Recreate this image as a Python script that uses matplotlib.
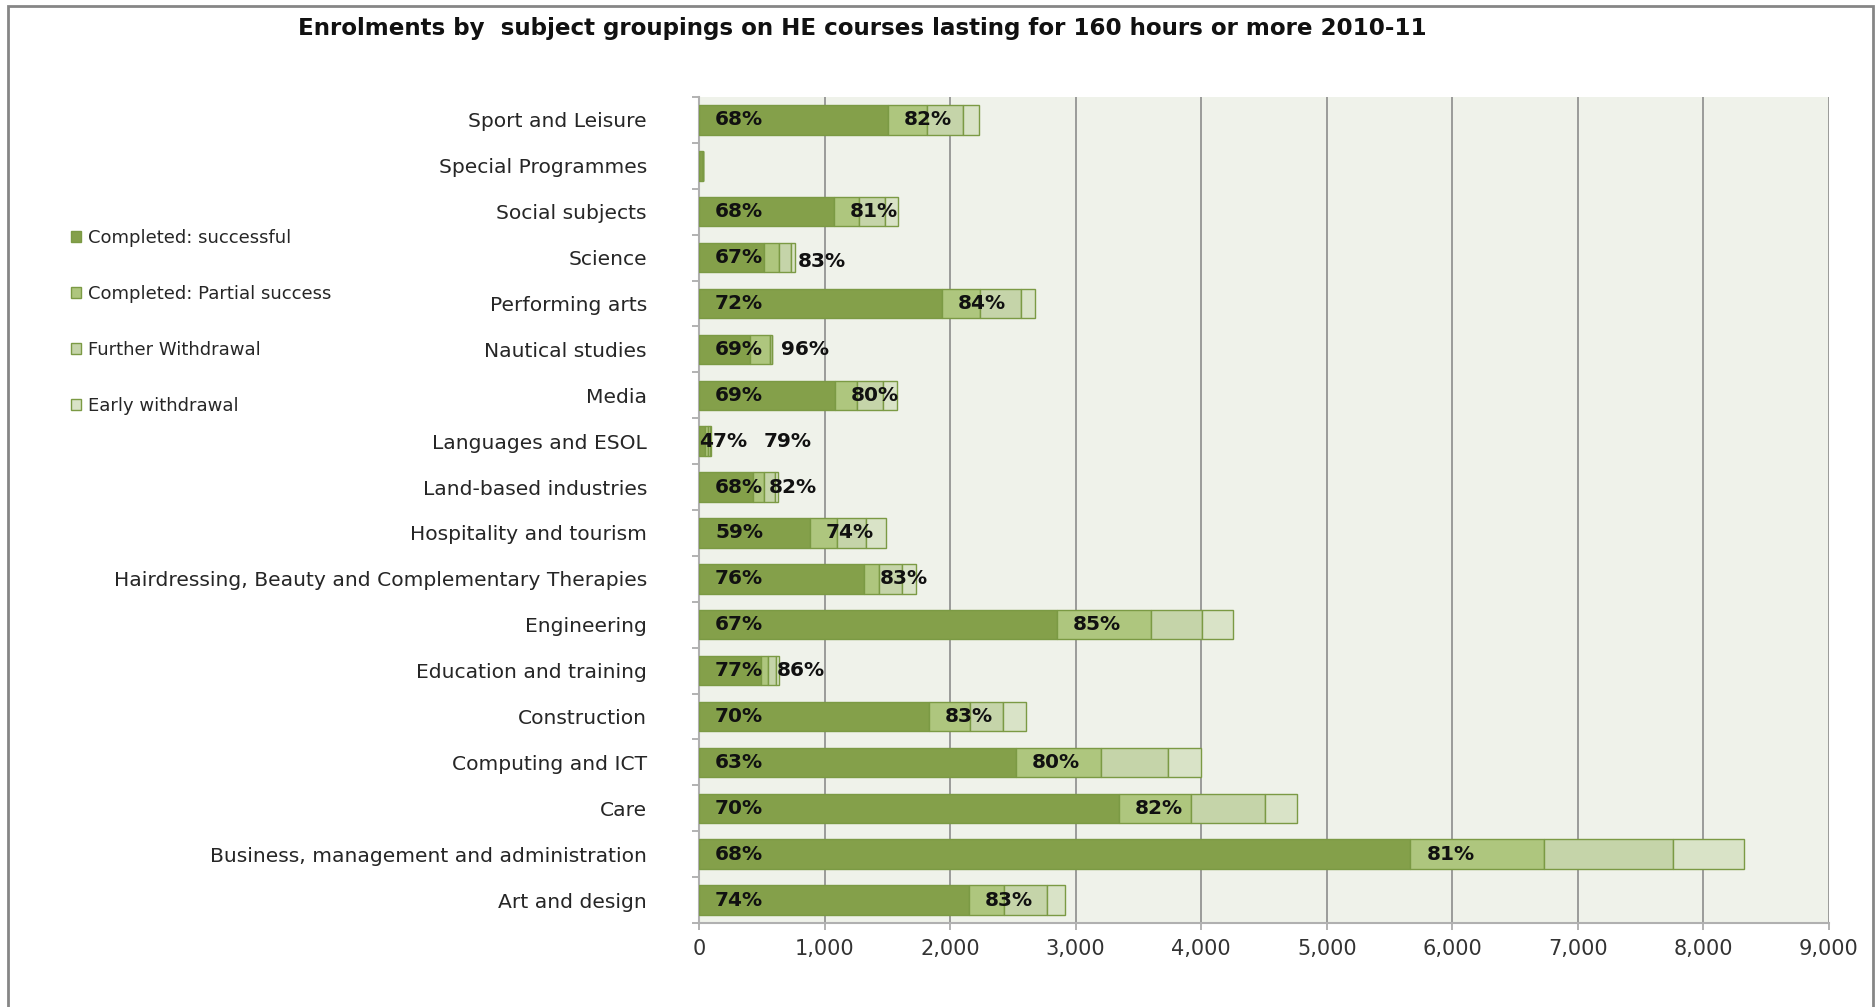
"""HE enrolments by subject grouping, 2010-11

Stacked horizontal bars of outcomes per subject group, with the success
rate and the success-plus-partial rate printed on each bar.
"""
import numpy as np
import matplotlib

matplotlib.use("Agg")
import matplotlib.pyplot as plt
from matplotlib.patches import Patch, Rectangle
from matplotlib.ticker import FuncFormatter, FixedLocator

TITLE = "Enrolments by  subject groupings on HE courses lasting for 160 hours or more 2010-11"

# bottom row first
SUBJECTS = [
    "Art and design",
    "Business, management and administration",
    "Care",
    "Computing and ICT",
    "Construction",
    "Education and training",
    "Engineering",
    "Hairdressing, Beauty and Complementary Therapies",
    "Hospitality and tourism",
    "Land-based industries",
    "Languages and ESOL",
    "Media",
    "Nautical studies",
    "Performing arts",
    "Science",
    "Social subjects",
    "Special Programmes",
    "Sport and Leisure",
]
SUCCESSFUL = [2152, 5666, 3347, 2525, 1829, 490, 2849, 1311, 884, 430,
              45, 1085, 405, 1932, 515, 1075, 30, 1507]
PARTIAL = [279, 1066, 569, 680, 332, 58, 751, 119, 212, 88,
           30, 170, 157, 305, 119, 201, 0, 311]
FURTHER_WD = [342, 1023, 595, 529, 262, 68, 405, 183, 231, 87,
              13, 207, 17, 324, 101, 205, 0, 286]
EARLY_WD = [146, 568, 253, 262, 181, 21, 249, 112, 164, 27,
            7, 112, 6, 114, 32, 101, 0, 123]
SERIES = ["Completed: successful", "Completed: Partial success",
          "Further Withdrawal", "Early withdrawal"]

COLOURS = ["#84a04a", "#aec67e", "#c5d4a9", "#d9e3c7"]
EDGE = "#7b9a44"
PLOT_BG = "#eff2ea"
TEXT = "#262626"

# labels that were dragged off their default spot (pixels: dx1, dx2, dy2)
NUDGE = {
    "Science": (16, 34, -4),
    "Nautical studies": (16, 31, 0),
    "Languages and ESOL": (0, 59, 0),
}
NO_LABELS = {"Special Programmes"}

DPI = 100
PX = 72.0 / DPI  # points per pixel

fig = plt.figure(figsize=(18.75, 10.07), dpi=DPI)
ax = fig.add_axes([699 / 1875, 1 - 923 / 1007, 1130 / 1875, 826 / 1007])
ax.set_facecolor(PLOT_BG)

y = np.arange(len(SUBJECTS))
left = np.zeros(len(SUBJECTS))
for vals, colour, name in zip([SUCCESSFUL, PARTIAL, FURTHER_WD, EARLY_WD], COLOURS, SERIES):
    vals = np.array(vals, dtype=float)
    ax.barh(y, vals, left=left, height=0.64, color=colour, edgecolor=EDGE,
            linewidth=1.0, label=name, zorder=3)
    left += vals

# percentage labels
for i, subj in enumerate(SUBJECTS):
    if subj in NO_LABELS:
        continue
    total = SUCCESSFUL[i] + PARTIAL[i] + FURTHER_WD[i] + EARLY_WD[i]
    pct1 = round(100 * SUCCESSFUL[i] / total)
    pct2 = round(100 * (SUCCESSFUL[i] + PARTIAL[i]) / total)
    dx1, dx2, dy2 = NUDGE.get(subj, (16, 16, 0))
    ax.annotate(f"{pct1}%", (0, i), xytext=(dx1 * PX, 0), textcoords="offset points",
                ha="left", va="center", fontsize=14.5, fontweight="bold",
                color="#111111", zorder=5)
    ax.annotate(f"{pct2}%", (SUCCESSFUL[i], i), xytext=(dx2 * PX, dy2 * PX),
                textcoords="offset points", ha="left", va="center",
                fontsize=14.5, fontweight="bold", color="#111111", zorder=5)

ax.set_xlim(0, 9000)
ax.set_ylim(-0.5, len(SUBJECTS) - 0.5)
ax.xaxis.set_major_locator(FixedLocator(np.arange(0, 9001, 1000)))
ax.xaxis.set_major_formatter(FuncFormatter(lambda v, p: f"{int(v):,}"))
ax.grid(axis="x", color="#8c8c8c", linewidth=1.2, zorder=1)
ax.set_axisbelow(True)

ax.set_yticks(y)
ax.set_yticklabels(SUBJECTS)
ax.set_yticks(np.arange(-0.5, len(SUBJECTS), 1.0), minor=True)
ax.tick_params(axis="y", which="major", length=0, pad=52 * PX, labelsize=14.6,
               labelcolor=TEXT)
ax.tick_params(axis="y", which="minor", length=7 * PX, color="#a6a6a6", width=1.2)
ax.tick_params(axis="x", which="major", length=7 * PX, color="#a6a6a6", width=1.2,
               labelsize=15, labelcolor="#333333", pad=9 * PX)

for side in ["top", "right"]:
    ax.spines[side].set_visible(False)
for side in ["left", "bottom"]:
    ax.spines[side].set_color("#b0b0b0")
    ax.spines[side].set_linewidth(1.5)

fig.text(862 / 1875, 1 - 29 / 1007, TITLE, ha="center", va="center",
         fontsize=16.6, fontweight="bold", color="#111111")

handles = [Patch(facecolor=c, edgecolor=EDGE, linewidth=1.0) for c in COLOURS]
fig.legend(handles, SERIES, loc="upper left", bbox_to_anchor=(64 / 1875, 1 - 222 / 1007),
           frameon=False, fontsize=13, labelspacing=2.1, handlelength=0.55,
           handleheight=0.55, handletextpad=0.4, borderaxespad=0, labelcolor=TEXT)

# outer chart frame
fig.add_artist(Rectangle((8 / 1875, -0.01), 1865 / 1875, 1.01 - 6 / 1007,
                         transform=fig.transFigure, fill=False,
                         edgecolor="#868686", linewidth=2.0))

fig.savefig("out.png", dpi=DPI, facecolor="white")
